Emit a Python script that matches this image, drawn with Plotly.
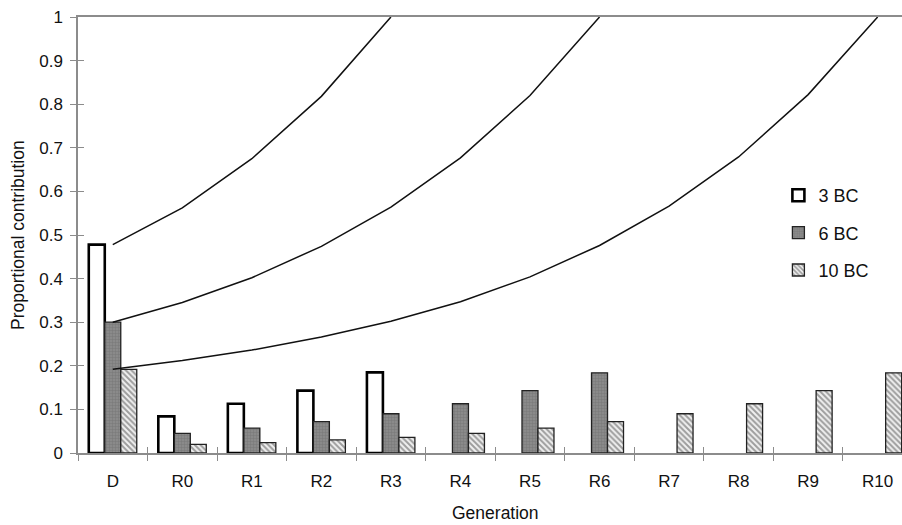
import plotly.graph_objects as go

# Generations on the x axis
generations = ["D", "R0", "R1", "R2", "R3", "R4", "R5", "R6", "R7", "R8", "R9", "R10"]

# Proportional contribution of each generation (bars)
bc3_bars = [0.478, 0.084, 0.113, 0.143, 0.185, None, None, None, None, None, None, None]
bc6_bars = [0.300, 0.045, 0.057, 0.072, 0.090, 0.113, 0.143, 0.184, None, None, None, None]
bc10_bars = [0.192, 0.020, 0.024, 0.030, 0.036, 0.045, 0.057, 0.072, 0.090, 0.113, 0.143, 0.184]

# Cumulative contribution curves
bc3_curve = [0.478, 0.562, 0.675, 0.818, 1.0]
bc6_curve = [0.300, 0.345, 0.402, 0.474, 0.564, 0.677, 0.820, 1.0]
bc10_curve = [0.192, 0.212, 0.236, 0.266, 0.302, 0.347, 0.404, 0.476, 0.566, 0.679, 0.822, 1.0]

series_names = ["3 BC", "6 BC", "10 BC"]

FONT = "Liberation Sans, Arial, sans-serif"
AXIS_GREY = "#8c8c8c"

fig = go.Figure()

fig.add_trace(go.Bar(
    x=generations, y=bc3_bars, name=series_names[0], legendgroup="a",
    marker=dict(color="white", line=dict(color="black", width=2.6)),
))
fig.add_trace(go.Bar(
    x=generations, y=bc6_bars, name=series_names[1], legendgroup="b",
    marker=dict(color="#7c7c7c", line=dict(color="#222222", width=1.3),
                pattern=dict(shape="+", fgcolor="#5e5e5e", bgcolor="#8a8a8a",
                             size=3, solidity=0.25)),
))
fig.add_trace(go.Bar(
    x=generations, y=bc10_bars, name=series_names[2], legendgroup="c",
    marker=dict(color="white", line=dict(color="#222222", width=1.3),
                pattern=dict(shape="\\", fgcolor="#4a4a4a", bgcolor="#f0f0f0",
                             size=4, solidity=0.5)),
))

for curve in (bc3_curve, bc6_curve, bc10_curve):
    fig.add_trace(go.Scatter(
        x=generations[:len(curve)], y=curve, mode="lines", showlegend=False,
        line=dict(color="#111111", width=1.5), hoverinfo="skip",
    ))

n = len(generations)
x_range = [-0.5, 11.35]

fig.update_layout(
    width=902, height=525,
    margin=dict(l=78, r=0, t=17, b=72),
    paper_bgcolor="white", plot_bgcolor="white",
    font=dict(family=FONT, size=17, color="#111111"),
    barmode="group", bargap=0.31, bargroupgap=0,
    showlegend=True,
    legend=dict(x=0.85, y=0.633, xanchor="left", yanchor="top",
                bgcolor="rgba(0,0,0,0)", tracegroupgap=11,
                font=dict(family=FONT, size=18, color="#111111")),
    xaxis=dict(
        type="category", categoryorder="array", categoryarray=generations,
        range=x_range, showline=True, linecolor=AXIS_GREY, linewidth=1.5,
        mirror=True, showgrid=False, zeroline=False,
        ticks="outside", tickson="boundaries", ticklen=6, tickcolor=AXIS_GREY,
        tickwidth=1, ticklabelstandoff=12,
        tickfont=dict(family=FONT, size=17, color="#111111"),
    ),
    yaxis=dict(
        range=[0, 1], showline=True, linecolor=AXIS_GREY, linewidth=1.5,
        showgrid=False, zeroline=False, dtick=0.1, tickformat="~g",
        ticks="outside", ticklen=6, tickcolor=AXIS_GREY, tickwidth=1,
        ticklabelstandoff=4,
        tickfont=dict(family=FONT, size=17, color="#111111"),
    ),
    # overlay axes supply the inner half of the crossing tick marks
    xaxis2=dict(
        overlaying="x", range=x_range, showline=False, showgrid=False,
        zeroline=False, showticklabels=False, ticks="inside", ticklen=6,
        tickcolor=AXIS_GREY, tickwidth=1,
        tickvals=[i - 0.5 for i in range(n + 1)],
    ),
    yaxis2=dict(
        overlaying="y", range=[0, 1], showline=False, showgrid=False,
        zeroline=False, showticklabels=False, ticks="inside", ticklen=6,
        tickcolor=AXIS_GREY, tickwidth=1, dtick=0.1,
    ),
    annotations=[
        dict(text="Generation", xref="x", yref="paper", x=(n - 1) / 2, y=0,
             yanchor="middle", xanchor="center", yshift=-60, showarrow=False,
             font=dict(family=FONT, size=17.5, color="#111111")),
        dict(text="Proportional contribution", xref="paper", yref="paper",
             x=0, y=0.5, xanchor="center", yanchor="middle", xshift=-60,
             textangle=-90, showarrow=False,
             font=dict(family=FONT, size=17.5, color="#111111")),
    ],
)

# invisible trace that anchors the overlay axes
fig.add_trace(go.Scatter(x=[0], y=[0], xaxis="x2", yaxis="y2", mode="markers",
                         marker=dict(opacity=0), showlegend=False, hoverinfo="skip"))

fig.write_html("out.html")
